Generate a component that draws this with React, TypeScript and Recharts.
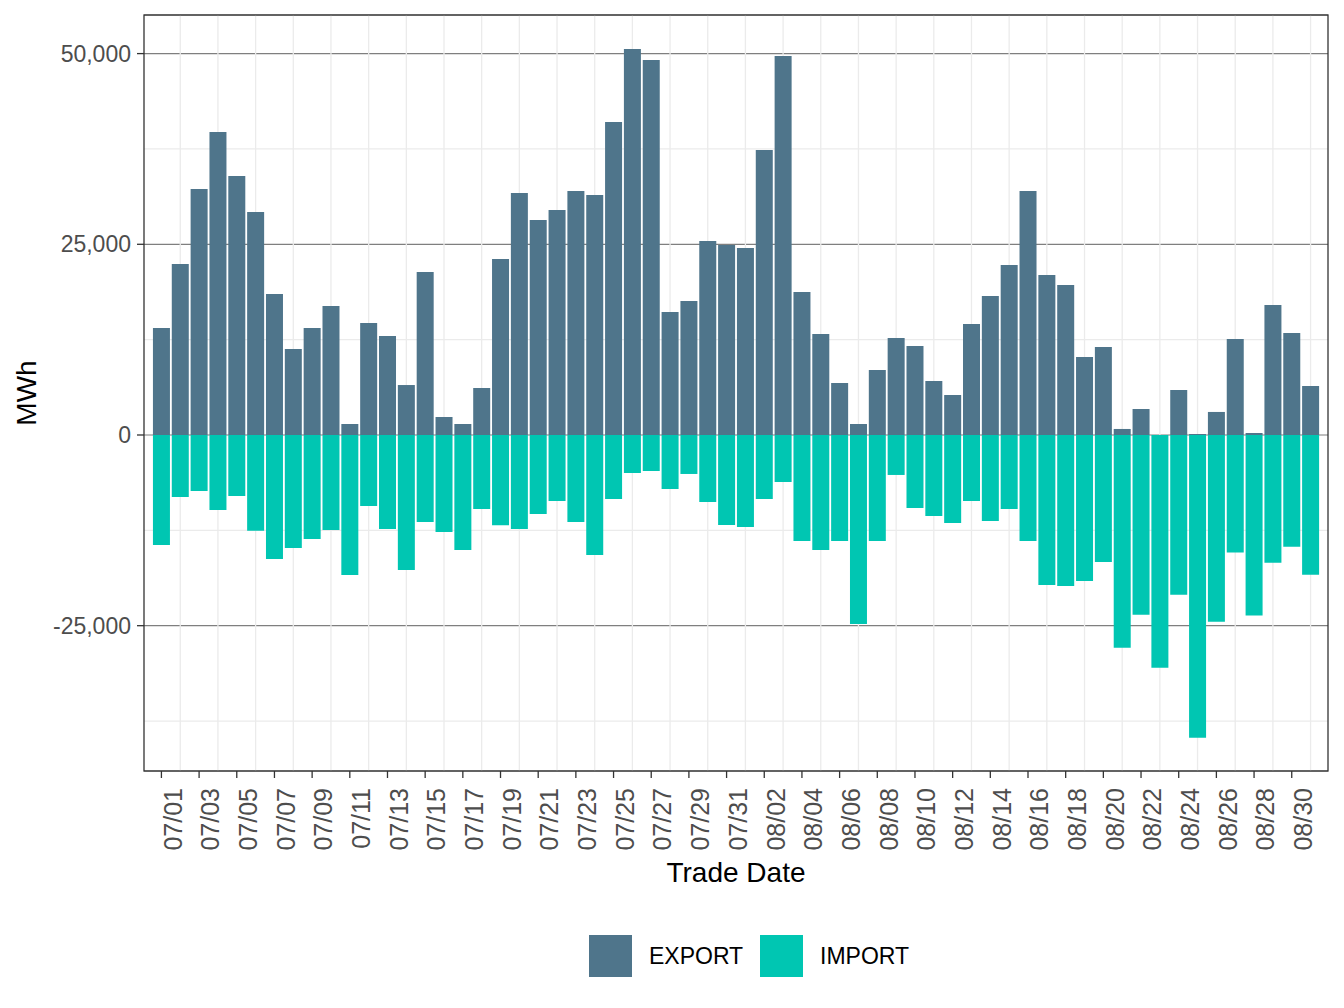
import React from 'react';
import { BarChart, Bar, XAxis, YAxis, CartesianGrid, ReferenceLine } from 'recharts';

// trade dates 07/01 .. 08/31
const monthDays: [string, number][] = [['07', 31], ['08', 31]];
const tradeDates: string[] = monthDays.flatMap(([m, n]) =>
  Array.from({ length: n }, (_, i) => `${m}/${String(i + 1).padStart(2, '0')}`)
);

const exportMWh = [
  14030, 22420, 32250, 39720, 33950, 29240, 18490, 11270, 14030, 16910,
  1440, 14680, 12980, 6550, 21370, 2360, 1440, 6160, 23070, 31720,
  28190, 29500, 31990, 31460, 41030, 50600, 49160, 16120, 17560, 25430,
  24910, 24520, 37360, 49690, 18750, 13240, 6820, 1440, 8520, 12720,
  11670, 7080, 5240, 14550, 18220, 22290, 31990, 20980, 19670, 10230,
  11540, 790, 3410, 0, 5900, 130, 3020, 12590, 260, 17040, 13370, 6420,
];

const importMWh = [
  -14420, -8130, -7340, -9830, -8000, -12550, -16260, -14810, -13630, -12450,
  -18350, -9310, -12320, -17700, -11410, -12720, -15080, -9700, -11840, -12320,
  -10360, -8650, -11410, -15730, -8390, -4980, -4720, -7080, -5110, -8780,
  -11800, -12060, -8390, -6160, -13890, -15070, -13890, -24780, -13890, -5240,
  -9570, -10620, -11540, -8650, -11280, -9700, -13890, -19670, -19800, -19140,
  -16650, -27880, -23550, -30500, -20930, -39680, -24470, -15420, -23680, -16740,
  -14640, -18310,
];

const xTickLabels = tradeDates.filter((_, i) => i % 2 === 0);
const xMinorGrid = tradeDates.filter((_, i) => i % 2 === 1);
const yTicks = [-25000, 0, 25000, 50000];
const yMinorGrid = [-37500, -12500, 12500, 37500];

const series = [
  { key: 'EXPORT', color: '#4F758B' },
  { key: 'IMPORT', color: '#00C6B2' },
];

const data = tradeDates.map((d, i) => ({ date: d, EXPORT: exportMWh[i], IMPORT: importMWh[i] }));

const FONT = '"Liberation Sans", Arial, Helvetica, sans-serif';
const W = 1344;
const H = 1008;
const PLOT = { left: 144, top: 15, right: 1328, bottom: 771 };

const fmt = (v: number) => v.toLocaleString('en-US');

const DateTick = (props: any) => {
  const { x, y, payload } = props;
  return (
    <text
      transform={`translate(${x + 11.5},${y + 8}) rotate(-90)`}
      textAnchor="end"
      dy="0.35em"
      fontSize={25}
      fill="#4D4D4D"
      fontFamily={FONT}
    >
      {payload.value}
    </text>
  );
};

export default function App() {
  return (
    <div style={{ position: 'absolute', left: 0, top: 0, width: W, height: H, background: '#fff', fontFamily: FONT }}>
      <BarChart
        width={W}
        height={H}
        data={data}
        stackOffset="sign"
        barCategoryGap="5%"
        margin={{ top: PLOT.top, right: W - PLOT.right, left: 0, bottom: H - PLOT.bottom - 80 }}
      >
        <CartesianGrid vertical={false} stroke="#7F7F7F" strokeWidth={1.2} />
        {yMinorGrid.map(v => (
          <ReferenceLine key={`y${v}`} y={v} stroke="#EBEBEB" strokeWidth={1.3} zIndex={-50} />
        ))}
        {xMinorGrid.map(d => (
          <ReferenceLine key={`x${d}`} x={d} stroke="#EBEBEB" strokeWidth={1.3} zIndex={-50} />
        ))}
        <XAxis
          dataKey="date"
          ticks={xTickLabels}
          interval={0}
          height={80}
          padding={{ left: 8, right: 8 }}
          tickSize={7}
          tickMargin={2}
          axisLine={false}
          tickLine={{ stroke: '#333333', strokeWidth: 1.3 }}
          tick={<DateTick />}
        />
        <YAxis
          width={PLOT.left}
          domain={[-44050, 55060]}
          allowDataOverflow
          ticks={yTicks}
          tickFormatter={fmt}
          tickSize={7}
          tickMargin={6}
          axisLine={false}
          tickLine={{ stroke: '#333333', strokeWidth: 1.3 }}
          tick={{ fontSize: 23, fill: '#4D4D4D', fontFamily: FONT }}
        />
        {series.map(s => (
          <Bar key={s.key} dataKey={s.key} stackId="flow" fill={s.color} isAnimationActive={false} />
        ))}
      </BarChart>
      <svg width={W} height={H} style={{ position: 'absolute', left: 0, top: 0, pointerEvents: 'none' }}>
        <rect
          x={PLOT.left}
          y={PLOT.top}
          width={PLOT.right - PLOT.left}
          height={PLOT.bottom - PLOT.top}
          fill="none"
          stroke="#333333"
          strokeWidth={1.3}
        />
        <text x={736} y={882} textAnchor="middle" fontSize={28} fill="#000" fontFamily={FONT}>
          Trade Date
        </text>
        <text
          transform={`translate(36,${(PLOT.top + PLOT.bottom) / 2}) rotate(-90)`}
          textAnchor="middle"
          fontSize={28}
          fill="#000"
          fontFamily={FONT}
        >
          MWh
        </text>
        {series.map((s, i) => (
          <g key={s.key} transform={`translate(${589 + i * 171},935)`}>
            <rect width={43} height={42} fill={s.color} />
            <text x={60} y={29} fontSize={23} fill="#000" fontFamily={FONT}>
              {s.key}
            </text>
          </g>
        ))}
      </svg>
    </div>
  );
}
